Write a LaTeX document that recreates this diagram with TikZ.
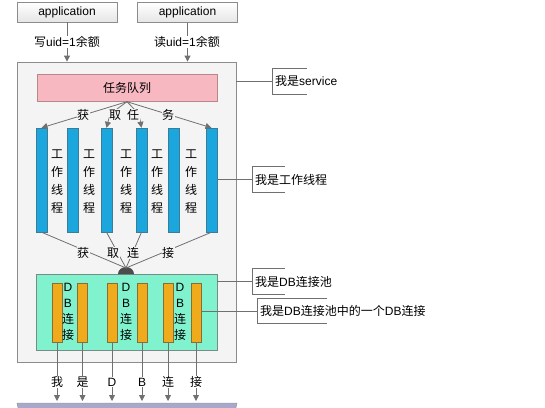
\documentclass[tikz,border=0pt]{standalone}
\usepackage{fontspec}
\setmainfont{Liberation Sans}
\newfontfamily\cjk{Noto Sans CJK SC}
\newcommand\zh[1]{{\cjk #1}}
\usetikzlibrary{arrows.meta}
\definecolor{lnc}{HTML}{707070}
\definecolor{outerbg}{HTML}{F4F4F4}
\definecolor{outerbd}{HTML}{8C8C8C}
\definecolor{pinkc}{HTML}{F7B8C2}
\definecolor{pinkbd}{HTML}{B88888}
\definecolor{bluec}{HTML}{1CA6DE}
\definecolor{bluebd}{HTML}{3C7C98}
\definecolor{aquac}{HTML}{80F2CE}
\definecolor{aquabd}{HTML}{7A8A84}
\definecolor{orangec}{HTML}{EFAB1C}
\definecolor{orangebd}{HTML}{8A6C34}
\definecolor{domec}{HTML}{4C4C4C}
\definecolor{lavc}{HTML}{A8A8CA}
\tikzset{
  ln/.style={draw=lnc, line width=0.8pt},
  arr/.style={ln, -{Triangle[length=6pt,width=6pt]}},
  appbox/.style={draw=outerbd, top color=white, bottom color=black!10, minimum width=100pt, minimum height=20pt, inner sep=0pt},
  bluebar/.style={draw=bluebd, fill=bluec, minimum width=11pt, minimum height=104pt, inner sep=0pt},
  orangebar/.style={draw=orangebd, fill=orangec, minimum width=10pt, minimum height=59pt, inner sep=0pt},
  lbl/.style={fill=outerbg, inner sep=0.5pt, font=\cjk\fontsize{12}{14}\selectfont},
  wlbl/.style={fill=white, inner sep=0.5pt},
  vtext/.style={align=center, inner sep=0pt, font=\cjk\fontsize{12}{18}\selectfont},
  vdb/.style={align=center, inner sep=0pt, font=\fontsize{12}{16}\selectfont},
  ann/.style={anchor=west, minimum height=25pt, inner xsep=3pt, inner ysep=0pt},
  brk/.style={draw=lnc, line width=0.8pt}
}
\begin{document}
\begin{tikzpicture}[x=1pt,y=-1pt,font=\fontsize{12}{14}\selectfont]
\useasboundingbox (0,0) rectangle (545,407);
\clip (0,0) rectangle (545,407);

% applications
\node[appbox] (app1) at (67,12) {application};
\node[appbox] (app2) at (187.5,12.5) {application};

% outer service box
\node[draw=outerbd, fill=outerbg, line width=0.8pt, minimum width=219pt, minimum height=300pt, inner sep=0pt] (outer) at (126.5,212) {};

\draw[arr] (app1.south) -- (app1.south |- outer.north);
\draw[arr] (app2.south) -- (app2.south |- outer.north);
\node[wlbl] (l1) at (67,42) {\zh{写}uid=1\zh{余额}};
\node[wlbl] (l2) at (187,42) {\zh{读}uid=1\zh{余额}};

% task queue
\node[draw=pinkbd, fill=pinkc, minimum width=180pt, minimum height=27pt, inner sep=0pt, font=\cjk\fontsize{12}{14}\selectfont] (queue) at (127,88) {任务队列};

% worker threads
\node[bluebar] (b1) at (41.5,180) {};
\node[bluebar] (b2) at (72.5,180) {};
\node[bluebar] (b3) at (106.5,180) {};
\node[bluebar] (b4) at (141.5,180) {};
\node[bluebar] (b5) at (173.5,180) {};
\node[bluebar] (b6) at (211.5,180) {};
\node[vtext] (t1) at (57,182) {工\\作\\线\\程};
\node[vtext] (t2) at (89,182) {工\\作\\线\\程};
\node[vtext] (t3) at (126,182) {工\\作\\线\\程};
\node[vtext] (t4) at (157,182) {工\\作\\线\\程};
\node[vtext] (t5) at (191,182) {工\\作\\线\\程};

% get task arrows
\coordinate (src) at (queue.south);
\draw[arr] (src) -- (b1.north);
\draw[arr] (src) .. controls (110,114) .. (b3.north);
\draw[arr] (src) .. controls (139,114) .. (b4.north);
\draw[arr] (src) -- (b6.north);
\node[lbl] (g1) at (83,115) {获};
\node[lbl] (g2) at (115,115) {取};
\node[lbl] (g3) at (133,115) {任};
\node[lbl] (g4) at (168,115) {务};

% DB pool
\node[draw=aquabd, fill=aquac, minimum width=181pt, minimum height=76pt, inner sep=0pt] (pool) at (126.5,312) {};
\fill[domec] (118,274) arc[start angle=180,end angle=360,x radius=8,y radius=7] -- cycle;
\coordinate (hub) at (126,268);
\draw[ln] (b1.south) -- (hub);
\draw[ln] (b3.south) -- (hub);
\draw[ln] (b4.south) -- (hub);
\draw[ln] (b6.south) -- (hub);
\node[lbl] (c1) at (83,253) {获};
\node[lbl] (c2) at (113,253) {取};
\node[lbl] (c3) at (133,253) {连};
\node[lbl] (c4) at (168,253) {接};

% connections
\node[orangebar] (o1) at (57,312.5) {};
\node[orangebar] (o2) at (82.5,312.5) {};
\node[orangebar] (o3) at (112,312.5) {};
\node[orangebar] (o4) at (142,312.5) {};
\node[orangebar] (o5) at (168,312.5) {};
\node[orangebar] (o6) at (196,312.5) {};
\node[vdb] (d1) at (68,312) {D\\B\\\zh{连}\\\zh{接}};
\node[vdb] (d2) at (126,312) {D\\B\\\zh{连}\\\zh{接}};
\node[vdb] (d3) at (180,312) {D\\B\\\zh{连}\\\zh{接}};

% bottom box
\draw[draw=outerbd, fill=lavc] (17,403) -- (237,403) -- (235,412) -- (19,412) -- cycle;
\coordinate (bt) at (0,401);
\draw[arr] (o1.south) -- (o1.south |- bt);
\draw[arr] (o2.south) -- (o2.south |- bt);
\draw[arr] (o3.south) -- (o3.south |- bt);
\draw[arr] (o4.south) -- (o4.south |- bt);
\draw[arr] (o5.south) -- (o5.south |- bt);
\draw[arr] (o6.south) -- (o6.south |- bt);
\node[wlbl,font=\cjk\fontsize{12}{14}\selectfont] (e1) at (57,382) {我};
\node[wlbl,font=\cjk\fontsize{12}{14}\selectfont] (e2) at (82.5,382) {是};
\node[wlbl] (e3) at (112,382) {D};
\node[wlbl] (e4) at (142,382) {B};
\node[wlbl,font=\cjk\fontsize{12}{14}\selectfont] (e5) at (168,382) {连};
\node[wlbl,font=\cjk\fontsize{12}{14}\selectfont] (e6) at (196,382) {接};

% annotations
\node[ann] (a1) at (272,81.5) {\zh{我是}service};
\draw[brk] ([xshift=35pt]a1.north west) -- (a1.north west) -- (a1.south west) -- ([xshift=35pt]a1.south west);
\draw[ln] (a1.west -| outer.east) -- (a1.west);

\node[ann, font=\cjk\fontsize{12}{14}\selectfont] (a2) at (252,179.5) {我是工作线程};
\draw[brk] ([xshift=33pt]a2.north west) -- (a2.north west) -- (a2.south west) -- ([xshift=33pt]a2.south west);
\draw[ln] (a2.west -| b6.east) -- (a2.west);

\node[ann] (a3) at (252,281.5) {\zh{我是}DB\zh{连接池}};
\draw[brk] ([xshift=33pt]a3.north west) -- (a3.north west) -- (a3.south west) -- ([xshift=33pt]a3.south west);
\draw[ln] (a3.west -| pool.east) -- (a3.west);

\node[ann] (a4) at (257,311) {\zh{我是}DB\zh{连接池中的一个}DB\zh{连接}};
\draw[brk] ([xshift=70pt]a4.north west) -- (a4.north west) -- (a4.south west) -- ([xshift=70pt]a4.south west);
\draw[ln] (a4.west -| o6.east) -- (a4.west);
\end{tikzpicture}
\end{document}
